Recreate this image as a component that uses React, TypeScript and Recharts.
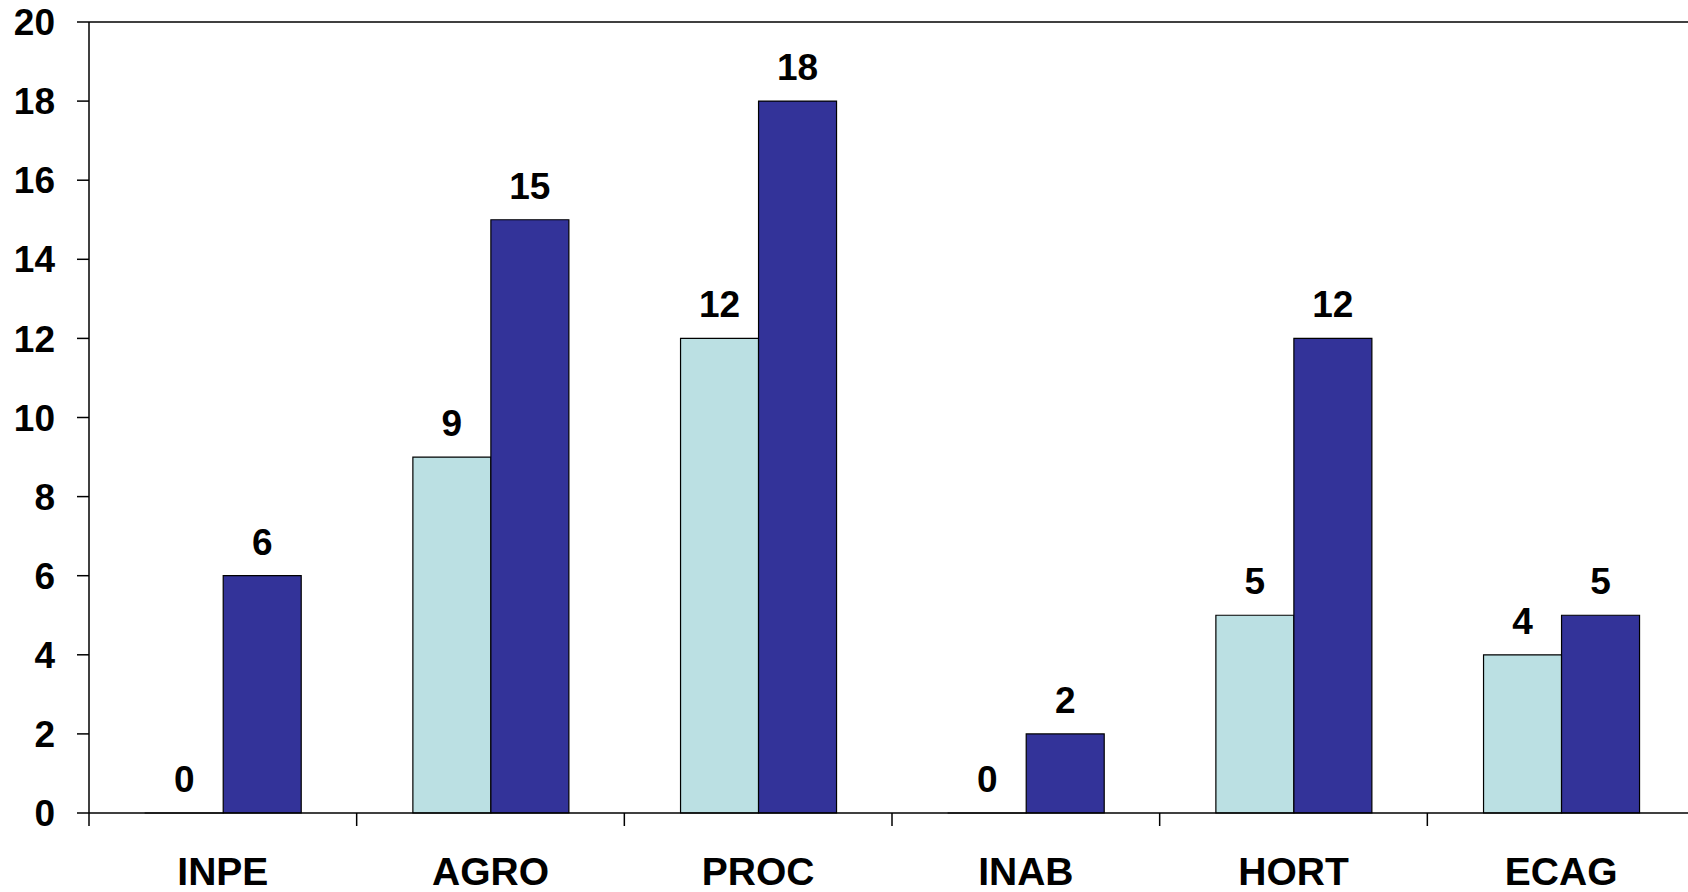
import React from 'react';
import { BarChart, Bar, XAxis, YAxis, LabelList, ReferenceLine } from 'recharts';

const CATEGORIES = ['INPE', 'AGRO', 'PROC', 'INAB', 'HORT', 'ECAG'];
const SERIES_A = [0, 9, 12, 0, 5, 4];
const SERIES_B = [6, 15, 18, 2, 12, 5];
const Y_TICKS = [0, 2, 4, 6, 8, 10, 12, 14, 16, 18, 20];

const data = CATEGORIES.map((name, i) => ({ name, a: SERIES_A[i], b: SERIES_B[i] }));

const FONT = 'Arial, "Liberation Sans", sans-serif';

function CategoryTick(props: any) {
  const { x, y, payload } = props;
  const half = payload?.offset ?? 133.8;
  return (
    <g>
      <line x1={x - half} y1={y} x2={x - half} y2={y + 13} stroke="#000" strokeWidth={1.5} />
      <text x={x} y={y + 72} textAnchor="middle" fontFamily={FONT} fontWeight="bold" fontSize={39} fill="#000">
        {payload.value}
      </text>
    </g>
  );
}

export default function App() {
  return (
    <div style={{ position: 'fixed', left: 0, top: 0, width: 1688, height: 892, overflow: 'hidden', background: '#fff' }}>
      <BarChart
        width={1700}
        height={892}
        data={data}
        margin={{ top: 22, right: 5, bottom: 0, left: 0 }}
        barCategoryGap="21%"
        barGap={0}
      >
        <XAxis
          dataKey="name"
          height={79}
          axisLine={{ stroke: '#000', strokeWidth: 1.5 }}
          tickLine={false}
          tickSize={0}
          tickMargin={0}
          tick={<CategoryTick />}
          interval={0}
        />
        <YAxis
          width={89}
          domain={[0, 20]}
          ticks={Y_TICKS}
          interval={0}
          tickSize={12}
          tickMargin={22}
          axisLine={{ stroke: '#000', strokeWidth: 1.5 }}
          tickLine={{ stroke: '#000', strokeWidth: 1.5 }}
          tick={{ fontFamily: FONT, fontWeight: 'bold', fontSize: 37, fill: '#000' }}
        />
        <ReferenceLine y={20} stroke="#000" strokeWidth={1.5} />
        <Bar dataKey="a" fill="#BBE0E3" stroke="#000" strokeWidth={1.2} minPointSize={0.01} isAnimationActive={false}>
          <LabelList dataKey="a" position="top" offset={21} fill="#000" fontFamily={FONT} fontWeight="bold" fontSize={37} />
        </Bar>
        <Bar dataKey="b" fill="#333399" stroke="#000" strokeWidth={1.2} isAnimationActive={false}>
          <LabelList dataKey="b" position="top" offset={21} fill="#000" fontFamily={FONT} fontWeight="bold" fontSize={37} />
        </Bar>
      </BarChart>
    </div>
  );
}
